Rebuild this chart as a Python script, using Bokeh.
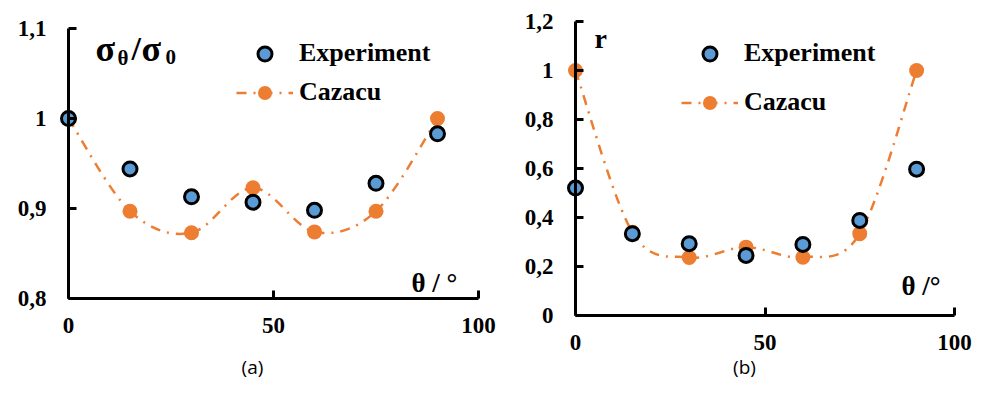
from bokeh.plotting import figure
from bokeh.models import (Range1d, FixedTicker, CustomJSTickFormatter, Label,
                          Legend, LegendItem)
from bokeh.layouts import row
from bokeh.embed import file_html
from bokeh.resources import INLINE

# ---------------- data ----------------
theta = [0, 15, 30, 45, 60, 75, 90]
a_experiment = [1.0, 0.944, 0.913, 0.907, 0.898, 0.928, 0.983]
a_cazacu = [1.0, 0.897, 0.873, 0.923, 0.874, 0.897, 1.0]
b_experiment = [0.52, 0.334, 0.293, 0.245, 0.29, 0.388, 0.597]
b_cazacu = [1.0, 0.34, 0.237, 0.279, 0.238, 0.334, 1.0]
x_ticks = [0, 50, 100]
a_y_ticks = [0.8, 0.9, 1.0, 1.1]
b_y_ticks = [0, 0.2, 0.4, 0.6, 0.8, 1.0, 1.2]

BLUE = "#5B9BD5"
ORANGE = "#ED7D31"
SERIF = "Liberation Serif"
H = 382

fmt = CustomJSTickFormatter(code="return (Math.round(tick*10)/10).toString().replace('.', ',');")


def smooth(xs, ys):
    """Bezier control points (Catmull-Rom) for a smoothed line through the data."""
    n = len(xs)
    out = {k: [] for k in ("x0", "y0", "x1", "y1", "cx0", "cy0", "cx1", "cy1")}
    for i in range(n - 1):
        ip = max(i - 1, 0)
        i2 = min(i + 2, n - 1)
        out["x0"].append(xs[i]); out["y0"].append(ys[i])
        out["x1"].append(xs[i + 1]); out["y1"].append(ys[i + 1])
        out["cx0"].append(xs[i] + (xs[i + 1] - xs[ip]) / 6)
        out["cy0"].append(ys[i] + (ys[i + 1] - ys[ip]) / 6)
        out["cx1"].append(xs[i + 1] - (xs[i2] - xs[i]) / 6)
        out["cy1"].append(ys[i + 1] - (ys[i2] - ys[i]) / 6)
    return out


class Panel:
    """Frame fills the whole figure; axes are drawn at fixed locations inside it."""

    def __init__(self, left_px, width, x0_px, kx, ybase, y0_px, ky):
        self.left_px, self.width = left_px, width
        self.x0_px, self.kx, self.ybase, self.y0_px, self.ky = x0_px, kx, ybase, y0_px, ky

    def dx(self, px):
        return (px - self.x0_px) / self.kx

    def dy(self, py):
        return self.ybase + (self.y0_px - py) / self.ky


def panel(geo, y_bounds, y_ticks, exp, caz, legend_top_left, spacing):
    p = figure(width=geo.width, height=H, output_backend="svg", toolbar_location=None,
               x_range=Range1d(geo.dx(geo.left_px), geo.dx(geo.left_px + geo.width)),
               y_range=Range1d(geo.dy(H), geo.dy(0)),
               min_border_left=0, min_border_right=0, min_border_top=0, min_border_bottom=0)
    p.outline_line_color = None
    p.grid.visible = False
    p.background_fill_color = "white"
    p.border_fill_color = "white"

    for ax in (p.xaxis[0], p.yaxis[0]):
        ax.axis_line_width = 3
        ax.axis_line_color = "black"
        ax.major_tick_in = 8
        ax.major_tick_out = 0
        ax.major_tick_line_width = 3
        ax.major_tick_line_color = "black"
        ax.minor_tick_line_color = None
        ax.major_label_text_font = SERIF
        ax.major_label_text_font_style = "bold"
        ax.major_label_text_font_size = "23px"
        ax.major_label_text_color = "black"
        ax.formatter = fmt
    p.xaxis[0].ticker = FixedTicker(ticks=x_ticks)
    p.xaxis[0].bounds = (0, 100)
    p.xaxis[0].fixed_location = y_bounds[0]
    p.xaxis[0].major_label_standoff = 19
    p.yaxis[0].ticker = FixedTicker(ticks=y_ticks)
    p.yaxis[0].bounds = y_bounds
    p.yaxis[0].fixed_location = 0
    p.yaxis[0].major_label_standoff = 22

    seg = smooth(theta, caz)
    r_line = p.bezier(x0=seg["x0"], y0=seg["y0"], x1=seg["x1"], y1=seg["y1"],
                      cx0=seg["cx0"], cy0=seg["cy0"], cx1=seg["cx1"], cy1=seg["cy1"],
                      line_color=ORANGE, line_width=2.5, line_dash="10 7 2 7")
    r_caz = p.scatter(theta, caz, size=15, fill_color=ORANGE, line_color=None)
    r_exp = p.scatter(theta, exp, size=14, fill_color=BLUE, line_color="black", line_width=3)

    gh = 35
    lx, ly = legend_top_left
    legend_h = 2 * gh + spacing
    legend = Legend(items=[LegendItem(label="Experiment", renderers=[r_exp]),
                           LegendItem(label="Cazacu", renderers=[r_line, r_caz])],
                    location=(lx - geo.left_px, H - (ly + legend_h)), orientation="vertical",
                    border_line_color=None, background_fill_alpha=0,
                    padding=0, margin=0, spacing=spacing,
                    glyph_width=57, glyph_height=gh, label_height=gh,
                    label_standoff=6, label_text_font=SERIF,
                    label_text_font_style="bold", label_text_font_size="26px",
                    label_text_color="black")
    p.add_layout(legend)
    return p


def lab(p, geo, px, py, text, size, align="left", baseline="alphabetic", font=SERIF, style="bold"):
    p.add_layout(Label(x=geo.dx(px), y=geo.dy(py), text=text, text_font=font,
                       text_font_size=size, text_font_style=style, text_align=align,
                       text_baseline=baseline, text_color="black"))


# ---------------- panel (a) ----------------
ga = Panel(left_px=0, width=500, x0_px=68, kx=4.1, ybase=0.8, y0_px=298, ky=900)
pa = panel(ga, (0.8, 1.1), a_y_ticks, a_experiment, a_cazacu, (236, 35.5), 4)
lab(pa, ga, 95, 48, "σ", "36px")
lab(pa, ga, 117, 57, "θ", "21px")
lab(pa, ga, 131, 48, "/", "34px")
lab(pa, ga, 141, 48, "σ", "36px")
lab(pa, ga, 165, 56, "0", "21px")
lab(pa, ga, 411, 282, "θ / °", "27px")
lab(pa, ga, 252, 366, "(a)", "19px", align="center", baseline="middle",
    font="Open Sans", style="normal")

# ---------------- panel (b) ----------------
gb = Panel(left_px=500, width=472, x0_px=575, kx=3.79, ybase=0.0, y0_px=315, ky=245)
pb = panel(gb, (0, 1.2), b_y_ticks, b_experiment, b_cazacu, (681, 35.5), 14)
lab(pb, gb, 594, 38, "r", "28px")
lab(pb, gb, 901, 285, "θ /°", "27px")
lab(pb, gb, 744, 366, "(b)", "19px", align="center", baseline="middle",
    font="Open Sans", style="normal")

layout = row(pa, pb, spacing=0)
open("out.html", "w").write(file_html(layout, INLINE))
